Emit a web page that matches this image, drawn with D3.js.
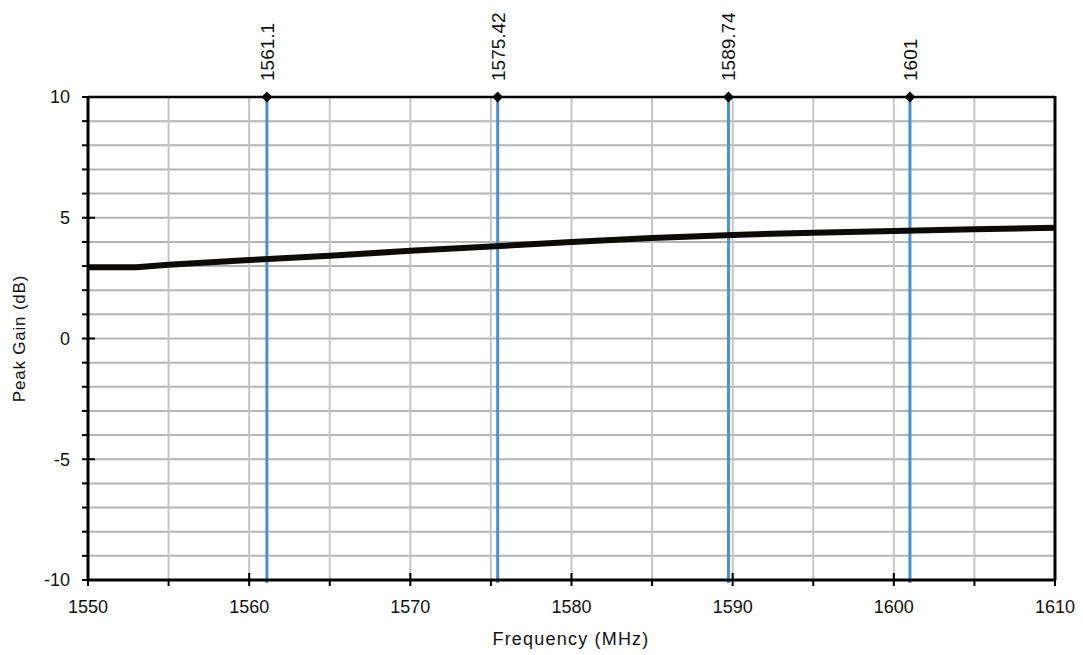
<!DOCTYPE html>
<html><head><meta charset="utf-8">
<script src="https://cdn.jsdelivr.net/npm/d3@7"></script>
<style>body{margin:0;background:#fff}svg{display:block}text{font-family:"Liberation Sans",Arial,sans-serif;fill:#111}</style>
</head><body><svg id="c" width="1083" height="655"></svg>
<script>
const freq = [1550, 1553, 1555, 1560, 1565, 1570, 1575, 1580, 1585, 1590, 1595, 1600, 1605, 1610];
const gain = [2.95, 2.95, 3.05, 3.25, 3.43, 3.63, 3.81, 4.0, 4.16, 4.29, 4.38, 4.45, 4.52, 4.59];
const markers = [1561.1, 1575.42, 1589.74, 1601];
const markerLabels = ["1561.1", "1575.42", "1589.74", "1601"];
const xTicks = [1550, 1560, 1570, 1580, 1590, 1600, 1610];
const yTicks = [-10, -5, 0, 5, 10];

const L = 88, R = 1055, T = 97, B = 580;
const svg = d3.select("#c");
const x = d3.scaleLinear().domain([1550, 1610]).range([L, R]);
const y = d3.scaleLinear().domain([-10, 10]).range([B, T]);

const xGrid = d3.range(1555, 1610, 5);
const yGrid = d3.range(-9, 10, 1);

svg.append("g").selectAll("line").data(yGrid).join("line")
  .attr("x1", L).attr("x2", R).attr("y1", d => y(d)).attr("y2", d => y(d))
  .attr("stroke", "#b4b4b4").attr("stroke-width", 2);
svg.append("g").selectAll("line").data(xGrid).join("line")
  .attr("y1", T).attr("y2", B).attr("x1", d => x(d)).attr("x2", d => x(d))
  .attr("stroke", "#c4c4c4").attr("stroke-width", 2);

// marker lines
svg.append("g").selectAll("line").data(markers).join("line")
  .attr("x1", d => x(d)).attr("x2", d => x(d)).attr("y1", T).attr("y2", B + 3)
  .attr("stroke", "#4a90d0").attr("stroke-width", 3);

// data line
svg.append("path").datum(freq.map((f, i) => [f, gain[i]]))
  .attr("d", d3.line().x(d => x(d[0])).y(d => y(d[1])))
  .attr("fill", "none").attr("stroke", "#0c0b08").attr("stroke-width", 6).attr("stroke-linejoin", "round");

// frame
svg.append("line").attr("x1", L).attr("x2", R).attr("y1", T).attr("y2", T).attr("stroke", "#000").attr("stroke-width", 2.5);
svg.append("line").attr("x1", R).attr("x2", R).attr("y1", T - 1).attr("y2", B).attr("stroke", "#000").attr("stroke-width", 3);

// y axis
const yAxis = svg.append("g");
yAxis.append("line").attr("x1", L).attr("x2", L).attr("y1", T - 1).attr("y2", B + 1).attr("stroke", "#000").attr("stroke-width", 3);
yAxis.selectAll(".mn").data(d3.range(-10, 11, 1)).join("line")
  .attr("x1", d => (d % 5 === 0 && d !== 10 && d !== -10) ? L + 7 : L).attr("x2", L - 6)
  .attr("y1", d => y(d)).attr("y2", d => y(d)).attr("stroke", "#000").attr("stroke-width", 2);
yAxis.selectAll("text").data(yTicks).join("text")
  .attr("x", L - 18).attr("y", d => y(d)).attr("dy", "0.36em").attr("text-anchor", "end")
  .attr("font-size", 18).text(d => d);

// x axis
const xAxis = svg.append("g");
xAxis.append("line").attr("x1", L - 1).attr("x2", R + 1).attr("y1", B).attr("y2", B).attr("stroke", "#000").attr("stroke-width", 3);
xAxis.selectAll(".mn").data(d3.range(1550, 1611, 5)).join("line")
  .attr("x1", d => x(d)).attr("x2", d => x(d))
  .attr("y1", d => (d % 10 === 0 && d !== 1550 && d !== 1610) ? B - 7 : B).attr("y2", B + 6)
  .attr("stroke", "#000").attr("stroke-width", 2);
xAxis.selectAll("text").data(xTicks).join("text")
  .attr("x", d => x(d)).attr("y", 613).attr("text-anchor", "middle")
  .attr("font-size", 18).text(d => d);

// marker diamonds & labels
svg.append("g").selectAll("path").data(markers).join("path")
  .attr("d", d3.symbol().type(d3.symbolDiamond2).size(75))
  .attr("transform", d => `translate(${x(d)},${T})`).attr("fill", "#000");
svg.append("g").selectAll("text").data(markers).join("text")
  .attr("transform", d => `translate(${x(d)},81) rotate(-90)`)
  .attr("dy", "0.36em").attr("text-anchor", "start").attr("font-size", 19)
  .text((d, i) => markerLabels[i]);

// titles
svg.append("text").attr("x", 571).attr("y", 645).attr("text-anchor", "middle")
  .attr("font-size", 18).attr("letter-spacing", 1.2).text("Frequency (MHz)");
svg.append("text").attr("transform", `translate(25,${(T + B) / 2}) rotate(-90)`)
  .attr("text-anchor", "middle").attr("font-size", 17).attr("letter-spacing", 0.8).text("Peak Gain (dB)");
</script></body></html>
